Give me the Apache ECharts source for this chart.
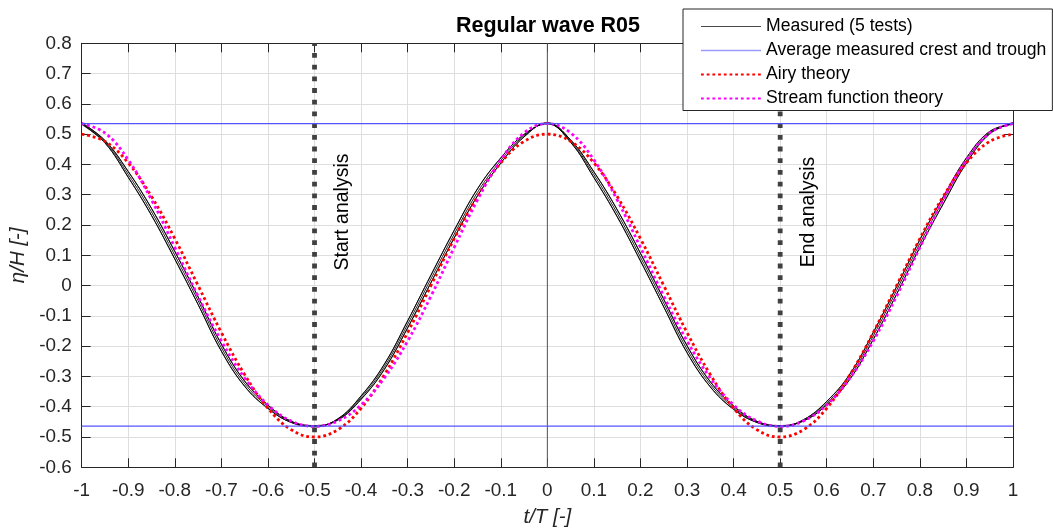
<!DOCTYPE html>
<html><head><meta charset="utf-8">
<script src="https://cdn.jsdelivr.net/npm/echarts@6/dist/echarts.min.js"></script>
<style>html,body{margin:0;padding:0;background:#fff}#c{width:1053px;height:528px}</style>
</head><body><div id="c"></div>
<script>
// ---- data ----
const timeRatio = [-1,-0.95,-0.9,-0.85,-0.8,-0.75,-0.7,-0.65,-0.6,-0.55,-0.5,-0.45,-0.4,-0.35,-0.3,-0.25,-0.2,-0.15,-0.1,-0.05,0,0.05,0.1,0.15,0.2,0.25,0.3,0.35,0.4,0.45,0.5,0.55,0.6,0.65,0.7,0.75,0.8,0.85,0.9,0.95,1];
const measuredTest1 = [0.538,0.479,0.377,0.255,0.113,-0.037,-0.193,-0.315,-0.394,-0.448,-0.462,-0.444,-0.376,-0.277,-0.140,0.009,0.157,0.296,0.404,0.491,0.538,0.481,0.376,0.251,0.107,-0.045,-0.198,-0.317,-0.397,-0.448,-0.462,-0.447,-0.394,-0.309,-0.178,-0.029,0.126,0.269,0.404,0.501,0.538];
const measuredTest2 = [0.537,0.479,0.376,0.254,0.112,-0.038,-0.194,-0.316,-0.395,-0.448,-0.463,-0.444,-0.375,-0.276,-0.139,0.010,0.158,0.297,0.405,0.491,0.537,0.481,0.375,0.250,0.106,-0.046,-0.199,-0.318,-0.398,-0.448,-0.463,-0.447,-0.393,-0.308,-0.177,-0.028,0.127,0.270,0.405,0.501,0.537];
const measuredTest3 = [0.535,0.475,0.367,0.243,0.100,-0.050,-0.205,-0.324,-0.400,-0.450,-0.464,-0.442,-0.370,-0.268,-0.128,0.022,0.170,0.308,0.413,0.495,0.536,0.477,0.366,0.239,0.094,-0.058,-0.210,-0.326,-0.403,-0.450,-0.464,-0.445,-0.388,-0.300,-0.166,-0.016,0.139,0.281,0.413,0.505,0.535];
const measuredTest4 = [0.534,0.471,0.358,0.232,0.088,-0.062,-0.216,-0.332,-0.405,-0.452,-0.465,-0.440,-0.365,-0.260,-0.117,0.034,0.182,0.319,0.421,0.499,0.535,0.473,0.357,0.228,0.082,-0.070,-0.221,-0.334,-0.408,-0.452,-0.465,-0.443,-0.383,-0.292,-0.155,-0.004,0.151,0.292,0.421,0.509,0.534];
const measuredTest5 = [0.532,0.471,0.357,0.231,0.087,-0.063,-0.217,-0.333,-0.406,-0.452,-0.466,-0.440,-0.364,-0.259,-0.116,0.035,0.183,0.320,0.422,0.499,0.534,0.473,0.356,0.227,0.081,-0.071,-0.222,-0.335,-0.409,-0.452,-0.466,-0.443,-0.382,-0.291,-0.154,-0.003,0.152,0.293,0.422,0.509,0.532];
const airyTheory = [0.500,0.476,0.405,0.294,0.155,0.000,-0.155,-0.294,-0.405,-0.476,-0.500,-0.476,-0.405,-0.294,-0.155,0.000,0.155,0.294,0.405,0.476,0.500,0.476,0.405,0.294,0.155,0.000,-0.155,-0.294,-0.405,-0.476,-0.500,-0.476,-0.405,-0.294,-0.155,0.000,0.155,0.294,0.405,0.476,0.500];
const streamTheory = [0.535,0.504,0.415,0.283,0.126,-0.035,-0.183,-0.305,-0.394,-0.447,-0.465,-0.447,-0.394,-0.305,-0.183,-0.035,0.126,0.283,0.415,0.504,0.535,0.504,0.415,0.283,0.126,-0.035,-0.183,-0.305,-0.394,-0.447,-0.465,-0.447,-0.394,-0.305,-0.183,-0.035,0.126,0.283,0.415,0.504,0.535];
const avgCrestTrough = [0.535, -0.464];
const analysisBounds = [-0.5, 0.5];
const analysisLabels = ['Start analysis', 'End analysis'];
const zeroLine = [0];
const xLimits = [-1, 1];
const yLimits = [-0.6, 0.8];
const legendNames = ['Measured (5 tests)', 'Average measured crest and trough', 'Airy theory', 'Stream function theory'];
const titleText = 'Regular wave R05';
const xName = 't/T [-]';
const yName = 'η/H [-]';

// ---- chart ----
const FONT = 'Liberation Sans, Arial, Helvetica, sans-serif';
const AX = '#262626';
const pair = (arr) => timeRatio.map((t, i) => [t, arr[i]]);
const fmt = (v) => String(Math.round(v * 10) / 10);

const series = [];
analysisBounds.forEach((b, i) => {
  series.push({
    type: 'line', name: 'bound' + i, silent: true, symbol: 'none', z: 1,
    data: [[b, yLimits[0]], [b, yLimits[1]]],
    lineStyle: { color: '#404040', width: 4.8, type: [4.8, 6.9], cap: 'butt' },
    markPoint: {
      symbol: 'circle', symbolSize: 0, silent: true,
      data: [{ coord: [b + (i === 0 ? 0.06 : 0.062), 0.243], value: analysisLabels[i] }],
      label: { show: true, formatter: analysisLabels[i], rotate: 90, color: '#000', fontSize: 19.5, fontFamily: FONT, position: 'inside' }
    }
  });
});
zeroLine.forEach((z) => {
  series.push({
    type: 'line', name: 'zero', silent: true, symbol: 'none', z: 1,
    data: [[z, yLimits[0]], [z, yLimits[1]]],
    lineStyle: { color: '#555555', width: 1 }
  });
});
[measuredTest1, measuredTest2, measuredTest3, measuredTest4, measuredTest5].forEach((arr, k) => {
  series.push({
    type: 'line', name: legendNames[0], id: 'test' + k, symbol: 'none', smooth: 0.4, z: 3,
    data: pair(arr), lineStyle: { color: '#000', width: 0.85 }, itemStyle: { color: '#555' }
  });
});
avgCrestTrough.forEach((v, k) => {
  series.push({
    type: 'line', name: legendNames[1], id: 'avg' + k, symbol: 'none', z: 7,
    data: [[xLimits[0], v], [xLimits[1], v]],
    lineStyle: { color: '#5555ff', width: 1.3 }, itemStyle: { color: '#5555ff' }
  });
});
series.push({
  type: 'line', name: legendNames[2], symbol: 'none', smooth: 0.4, z: 5,
  data: pair(airyTheory), lineStyle: { color: '#ff0000', width: 2.8, type: [2.8, 2.9], cap: 'butt' }, itemStyle: { color: '#ff0000' }
});
series.push({
  type: 'line', name: legendNames[3], symbol: 'none', smooth: 0.4, z: 6,
  data: pair(streamTheory), lineStyle: { color: '#ff00ff', width: 2.8, type: [2.8, 2.9], cap: 'butt' }, itemStyle: { color: '#ff00ff' }
});

const baseX = {
  type: 'value', min: xLimits[0], max: xLimits[1], interval: 0.1,
  axisLine: { show: true, onZero: false, lineStyle: { color: AX, width: 1 } },
  axisTick: { show: true, inside: true, length: 9, lineStyle: { color: AX, width: 1 } },
};
const baseY = {
  type: 'value', min: yLimits[0], max: yLimits[1], interval: 0.1,
  axisLine: { show: true, onZero: false, lineStyle: { color: AX, width: 1 } },
  axisTick: { show: true, inside: true, length: 9, lineStyle: { color: AX, width: 1 } },
};

const option = {
  animation: false,
  backgroundColor: '#fff',
  title: {
    text: titleText, left: 543, top: 10, textAlign: 'center',
    textStyle: { fontFamily: FONT, fontWeight: 'bold', fontSize: 21.5, color: '#000' }
  },
  grid: { left: 81.7, right: 40, top: 43.3, bottom: 60.7, containLabel: false, outerBoundsMode: 'none' },
  legend: {
    data: [
      { name: legendNames[0], lineStyle: { color: '#4a4a4a', width: 1.2 } },
      { name: legendNames[1], lineStyle: { color: '#9a9aff', width: 1.5 } },
      { name: legendNames[2] },
      { name: legendNames[3] }
    ],
    orient: 'vertical', left: 683, top: 9,
    itemWidth: 60, itemHeight: 14, itemGap: 6, padding: [8.5, 6, 3, 17],
    borderColor: AX, borderWidth: 1, backgroundColor: '#fff', borderRadius: 0,
    itemStyle: { opacity: 0 },
    textStyle: { fontFamily: FONT, fontSize: 17.6, color: '#000', lineHeight: 18 },
    selectedMode: false, z: 20
  },
  xAxis: [
    Object.assign({}, baseX, {
      position: 'bottom',
      name: xName, nameLocation: 'middle', nameGap: 40,
      nameTextStyle: { fontFamily: FONT, fontStyle: 'italic', fontSize: 20.5, color: AX },
      axisLabel: { show: true, margin: 14, formatter: fmt, fontFamily: FONT, fontSize: 18.9, color: AX },
      splitLine: { show: true, lineStyle: { color: '#dedede', width: 1 } }
    }),
    Object.assign({}, baseX, { position: 'top', axisLabel: { show: false }, splitLine: { show: false } })
  ],
  yAxis: [
    Object.assign({}, baseY, {
      position: 'left',
      name: yName, nameLocation: 'middle', nameGap: 47,
      nameTextStyle: { fontFamily: FONT, fontStyle: 'italic', fontSize: 20.5, color: AX },
      axisLabel: { show: true, margin: 10, formatter: fmt, fontFamily: FONT, fontSize: 18.9, color: AX },
      splitLine: { show: true, lineStyle: { color: '#dedede', width: 1 } }
    }),
    Object.assign({}, baseY, { position: 'right', axisLabel: { show: false }, splitLine: { show: false } })
  ],
  series: series
};
const chart = echarts.init(document.getElementById('c'), null, { renderer: 'canvas' });
chart.setOption(option);
</script>
</body></html>
